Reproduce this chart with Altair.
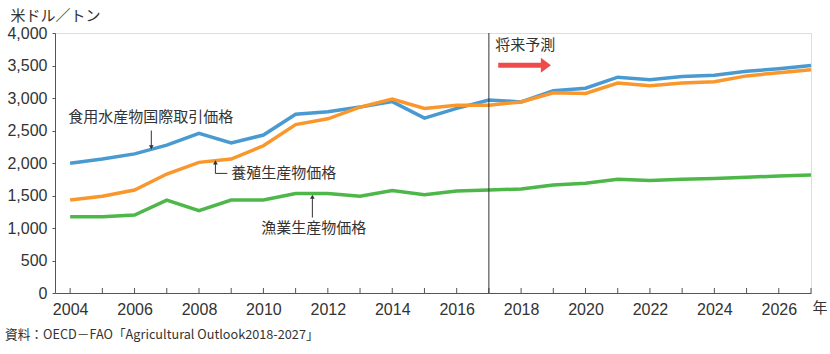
import altair as alt
import pandas as pd

years = list(range(2004, 2028))
trade = [1995, 2060, 2140, 2275, 2455, 2310, 2430, 2750, 2790, 2860, 2945, 2690, 2840, 2970,
         2940, 3110, 3150, 3320, 3280, 3330, 3350, 3410, 3450, 3500]
aqua = [1430, 1490, 1585, 1830, 2010, 2060, 2265, 2590, 2680, 2860, 2985, 2840, 2890, 2890,
        2940, 3080, 3070, 3230, 3190, 3230, 3250, 3340, 3390, 3435]
capture = [1175, 1175, 1200, 1430, 1265, 1430, 1430, 1530, 1530, 1490, 1575, 1510, 1570, 1585,
           1600, 1660, 1690, 1750, 1730, 1750, 1760, 1780, 1800, 1815]

series_names = ["食用水産物国際取引価格", "養殖生産物価格", "漁業生産物価格"]
series_colors = ["#4a9ad2", "#f9972c", "#4db849"]
x_tick_labels = list(range(2004, 2027, 2))
y_tick_values = list(range(0, 4001, 500))
forecast_year = 2017

FONT_JP = "Noto Sans CJK JP"
FONT_NUM = "Liberation Sans"
TXT = "#333333"

rows = []
for name, vals in zip(series_names, [trade, aqua, capture]):
    for y, v in zip(years, vals):
        rows.append({"year": y, "value": v, "series": name})
df = pd.DataFrame(rows)

W, H = 756, 260
xscale = alt.Scale(domain=[2003.53, 2027], nice=False, zero=False)
yscale = alt.Scale(domain=[0, 4000], nice=False)

x_axis = alt.Axis(values=x_tick_labels, format="d", ticks=False, grid=False,
                  labelOverlap=False,
                  labelFont=FONT_NUM, labelFontSize=16, labelColor=TXT,
                  labelPadding=8, domainColor="#555555",
                  titleFont=FONT_JP, titleFontSize=15, titleFontWeight="normal",
                  titleColor=TXT, titleAngle=0, titleAlign="left",
                  titleBaseline="middle", titleX=W + 1, titleY=14)
y_axis = alt.Axis(values=y_tick_values, format=",.0f", grid=False,
                  labelOverlap=False, tickCount=9,
                  tickSize=3, tickColor="#555555", domainColor="#555555",
                  labelFont=FONT_NUM, labelFontSize=16, labelColor=TXT,
                  labelPadding=5,
                  titleFont=FONT_JP, titleFontSize=15, titleFontWeight="normal",
                  titleColor=TXT, titleAngle=0, titleAlign="left",
                  titleBaseline="middle", titleX=-45, titleY=-18)


def X(field="year:Q"):
    return alt.X(field, scale=xscale, title="年", axis=x_axis)


def Y(field="value:Q"):
    return alt.Y(field, scale=yscale, title="米ドル／トン", axis=y_axis)


lines = alt.Chart(df).mark_line(strokeWidth=3.5).encode(
    x=X(), y=Y(),
    color=alt.Color("series:N", scale=alt.Scale(domain=series_names, range=series_colors),
                    legend=None),
    detail="series:N",
)

# inward x ticks
tick_df = pd.DataFrame({"year": years})
xticks = alt.Chart(tick_df).mark_rule(color="#555555", strokeWidth=1).encode(
    x=X(), y=alt.value(H - 5), y2=alt.value(H),
)

# forecast vertical line
vline = alt.Chart(pd.DataFrame({"year": [forecast_year]})).mark_rule(
    color="#333333", strokeWidth=1).encode(
    x=X(), y=alt.value(0), y2=alt.value(H))

# annotation labels (data coordinates)
lab_df = pd.DataFrame({
    "year": [2003.94, 2009.0, 2009.93, 2017.2],
    "value": [2710, 1846, 1000, 3815],
    "label": ["食用水産物国際取引価格", "養殖生産物価格", "漁業生産物価格", "将来予測"],
})
labels = alt.Chart(lab_df).mark_text(
    align="left", baseline="middle", font=FONT_JP, fontSize=15, color=TXT).encode(
    x=X(), y=Y(), text="label:N")

# leader lines
seg_df = pd.DataFrame({
    "year": [2006.52, 2008.51, 2008.51, 2011.52],
    "value": [2500, 1990, 1840, 1160],
    "year2": [2006.52, 2008.51, 2008.88, 2011.52],
    "value2": [2260, 1840, 1840, 1460],
})
segs = alt.Chart(seg_df).mark_rule(color=TXT, strokeWidth=1).encode(
    x=X(), y=Y(), x2="year2:Q", y2="value2:Q")

head_df = pd.DataFrame({
    "year": [2006.52, 2008.51, 2011.52],
    "value": [2240, 2010, 1480],
    "shape": ["triangle-down", "triangle-up", "triangle-up"],
})
heads = alt.Chart(head_df).mark_point(filled=True, color=TXT, opacity=1, size=22).encode(
    x=X(), y=Y(), shape=alt.Shape("shape:N", scale=None))

# red forecast arrow
arrow_shaft = alt.Chart(pd.DataFrame({"year": [2017.29], "year2": [2018.62], "value": [3505]})).mark_rule(
    color="#f04b4b", strokeWidth=5).encode(
    x=X(), x2="year2:Q", y=Y())
arrow_head = alt.Chart(pd.DataFrame({"year": [2018.77], "value": [3505]})).mark_point(
    filled=True, color="#f04b4b", opacity=1, size=225,
    shape="M-0.67,-1L0.67,0L-0.67,1Z").encode(
    x=X(), y=Y())

source = alt.Chart(pd.DataFrame({"t": ["資料：OECD－FAO「Agricultural Outlook2018-2027」"]})).mark_text(
    align="left", baseline="middle", font=FONT_JP, fontSize=12.7, color=TXT).encode(
    x=alt.value(-50), y=alt.value(302), text="t:N")

chart = alt.layer(lines, xticks, vline, segs, heads, labels, arrow_shaft, arrow_head, source).properties(
    width=W, height=H,
    padding={"left": 55, "top": 33, "right": 19, "bottom": 61},
    autosize=alt.AutoSizeParams(type="none"),
).configure_view(stroke=None).configure(background="white")

chart.save("out.html", embed_options={"renderer": "svg", "actions": False})
